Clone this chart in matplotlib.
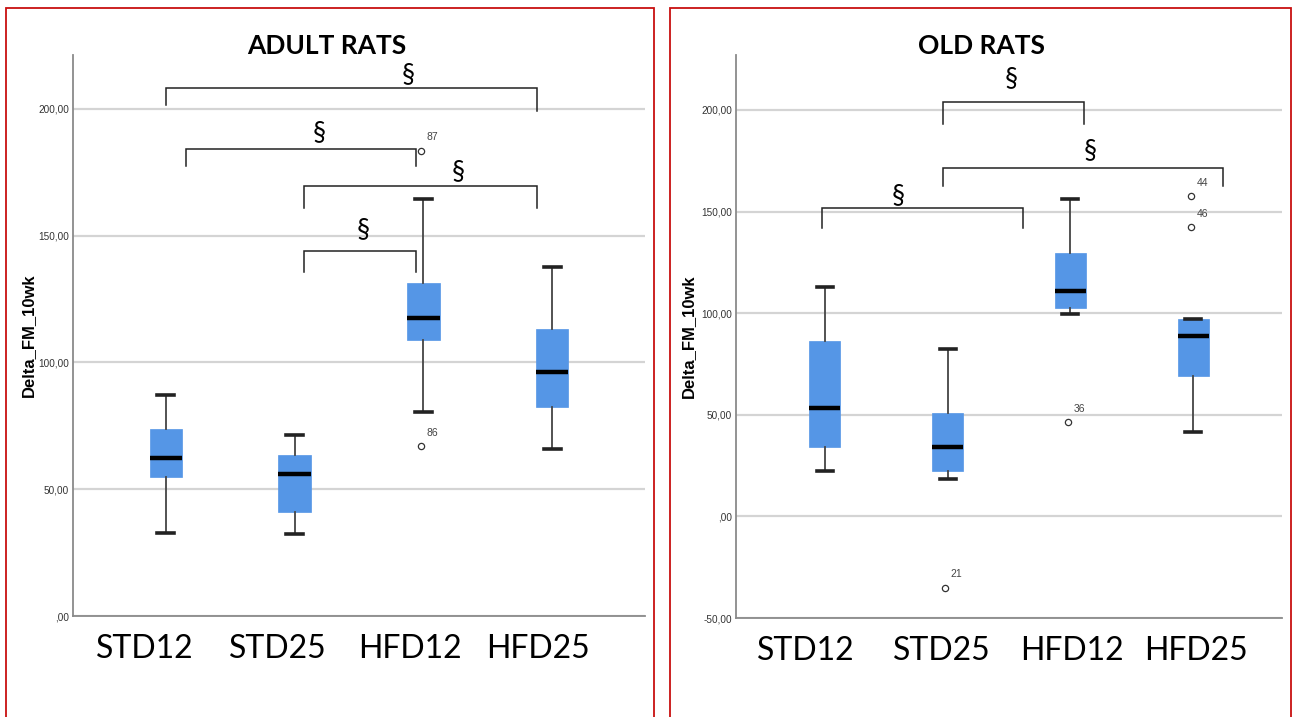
import matplotlib
matplotlib.use("Agg")
import matplotlib.pyplot as plt
from matplotlib.patches import Rectangle
from matplotlib.transforms import ScaledTranslation, blended_transform_factory

# ---------------- data ----------------
groups = ["STD12", "STD25", "HFD12", "HFD25"]

adult_whislo = [32.8, 32.4, 80.5, 65.9]
adult_q1 = [54.9, 41.0, 109.0, 82.5]
adult_med = [62.4, 56.0, 117.6, 96.3]
adult_q3 = [73.8, 63.6, 131.5, 113.3]
adult_whishi = [87.2, 71.5, 164.6, 137.8]
adult_out_group = [2, 2]
adult_out_value = [183.6, 67.1]
adult_out_label = ["87", "86"]

old_whislo = [22.1, 18.2, 99.4, 41.3]
old_q1 = [34.0, 22.1, 102.4, 68.9]
old_med = [53.1, 34.0, 110.7, 88.6]
old_q3 = [86.1, 50.7, 129.4, 97.0]
old_whishi = [112.7, 82.2, 156.0, 97.0]
old_out_group = [1, 2, 3, 3]
old_out_value = [-35.0, 46.3, 157.5, 142.2]
old_out_label = ["21", "36", "44", "46"]

# significance brackets: x1, x2, y, left tick end, right tick end, symbol x, symbol y
adult_br_x1 = [0.0, 0.155, 1.07, 1.07]
adult_br_x2 = [2.88, 1.94, 2.88, 1.94]
adult_br_y = [208.4, 184.4, 169.6, 144.1]
adult_br_yl = [201.7, 177.7, 161.0, 135.8]
adult_br_yr = [199.4, 177.7, 161.0, 135.8]
adult_sym_x = [1.88, 1.19, 2.27, 1.53]
adult_sym_y = [213.6, 190.7, 175.3, 152.4]

old_br_x1 = [0.96, 0.96, -0.02]
old_br_x2 = [2.11, 3.24, 1.61]
old_br_y = [203.7, 171.3, 151.6]
old_br_yl = [192.9, 162.4, 141.7]
old_br_yr = [192.9, 162.4, 141.7]
old_sym_x = [1.52, 2.16, 0.60]
old_sym_y = [215.6, 180.1, 158.0]

adult_yticks = [0, 50, 100, 150, 200]
adult_yticklabels = [",00", "50,00", "100,00", "150,00", "200,00"]
old_yticks = [-50, 0, 50, 100, 150, 200]
old_yticklabels = ["-50,00", ",00", "50,00", "100,00", "150,00", "200,00"]

# ---------------- styling ----------------
BOX_COLOR = "#5596E6"
GRID_COLOR = "#d4d4d4"
TICK_FONT = ["Liberation Sans Narrow", "Liberation Sans", "DejaVu Sans"]
CAT_FONT = ["Lato", "DejaVu Sans"]
# horizontal shift of each category label, in pixels (layout only)
adult_label_shift = [-21, -17, -13, -14]
old_label_shift = [-19, -6, 1, 3]

W, H = 1292, 717
fig = plt.figure(figsize=(W / 100, H / 100), dpi=100)


def fr(x0, y0, x1, y1):
    return [x0 / W, 1 - y1 / H, (x1 - x0) / W, (y1 - y0) / H]


def draw_panel(ax, title, title_x, whislo, q1, med, q3, whishi,
               og, ov, ol, bx1, bx2, by, byl, byr, sx, sy,
               yticks, yticklabels, ylim, shifts, ylab_x):
    stats = []
    for i in range(len(groups)):
        stats.append(dict(whislo=whislo[i], q1=q1[i], med=med[i], q3=q3[i],
                          whishi=whishi[i], fliers=[], label=groups[i]))
    ax.bxp(stats, positions=range(len(groups)), widths=0.25,
           patch_artist=True, showfliers=False,
           boxprops=dict(facecolor=BOX_COLOR, edgecolor=BOX_COLOR, linewidth=0.5),
           medianprops=dict(color="black", linewidth=3.2, solid_capstyle="butt"),
           whiskerprops=dict(color="#444444", linewidth=1.3),
           capprops=dict(color="#222222", linewidth=2.6),
           capwidths=0.13, zorder=3)
    # outliers
    for g, v, lab in zip(og, ov, ol):
        ax.plot(g - 0.02, v, marker="o", ms=4.5, mfc="none", mec="#333333",
                mew=0.9, ls="none", zorder=4)
        ax.annotate(lab, (g - 0.02, v), xytext=(4, 6), textcoords="offset points",
                    fontsize=7.5, color="#444444", family=TICK_FONT,
                    ha="left", va="bottom")
    # brackets
    for x1, x2, y, yl, yr, tx, ty in zip(bx1, bx2, by, byl, byr, sx, sy):
        ax.plot([x1, x1, x2, x2], [yl, y, y, yr], color="#222222", lw=1.1,
                zorder=5, clip_on=False, solid_joinstyle="miter")
        ax.text(tx, ty, "§", fontsize=19, family=CAT_FONT, ha="center",
                va="center", color="black", zorder=6)
    ax.set_xlim(-0.72, 3.72)
    ax.set_ylim(*ylim)
    ax.set_yticks(yticks)
    ax.set_yticklabels(yticklabels, fontsize=7.2, color="#333333", family=TICK_FONT)
    ax.set_xticks(range(len(groups)))
    ax.set_xticklabels([])
    base = blended_transform_factory(ax.transData, ax.transAxes)
    for i, (g, s) in enumerate(zip(groups, shifts)):
        tr = base + ScaledTranslation(s / 100, -0.185, fig.dpi_scale_trans)
        ax.text(i, 0, g, transform=tr, fontsize=23, family=CAT_FONT,
                color="black", ha="center", va="top")
    ax.tick_params(axis="x", length=0)
    ax.tick_params(axis="y", length=0, pad=3)
    ax.grid(axis="y", color=GRID_COLOR, linewidth=1.6, zorder=0)
    ax.set_axisbelow(True)
    for s in ["top", "right"]:
        ax.spines[s].set_visible(False)
    for s in ["left", "bottom"]:
        ax.spines[s].set_color("#8a8a8a")
        ax.spines[s].set_linewidth(1.3)
    ax.set_ylabel("Delta_FM_10wk", fontsize=12, fontweight="bold",
                  family=["Liberation Sans", "DejaVu Sans"])
    ax.yaxis.set_label_coords(ylab_x, 0.5)
    fig.text(title_x / W, 1 - 46 / H, title, fontsize=19, fontweight="bold",
             family=CAT_FONT, ha="center", va="center")


ax1 = fig.add_axes(fr(73, 55, 645, 616))
draw_panel(ax1, "ADULT RATS", 327, adult_whislo, adult_q1, adult_med, adult_q3,
           adult_whishi, adult_out_group, adult_out_value, adult_out_label,
           adult_br_x1, adult_br_x2, adult_br_y, adult_br_yl, adult_br_yr,
           adult_sym_x, adult_sym_y, adult_yticks, adult_yticklabels,
           (0, 221.3), adult_label_shift, -0.064)

ax2 = fig.add_axes(fr(736, 55, 1282, 618))
draw_panel(ax2, "OLD RATS", 981, old_whislo, old_q1, old_med, old_q3,
           old_whishi, old_out_group, old_out_value, old_out_label,
           old_br_x1, old_br_x2, old_br_y, old_br_yl, old_br_yr,
           old_sym_x, old_sym_y, old_yticks, old_yticklabels,
           (-50, 227.0), old_label_shift, -0.073)

# red panel frames
fig.add_artist(Rectangle((6 / W, -0.01), 648 / W, 1 - 8 / H + 0.01,
                         transform=fig.transFigure, fill=False,
                         edgecolor="#C81010", linewidth=1.3))
fig.add_artist(Rectangle((670 / W, -0.01), 621 / W, 1 - 8 / H + 0.01,
                         transform=fig.transFigure, fill=False,
                         edgecolor="#C81010", linewidth=1.3))

fig.savefig("out.png", dpi=100)
